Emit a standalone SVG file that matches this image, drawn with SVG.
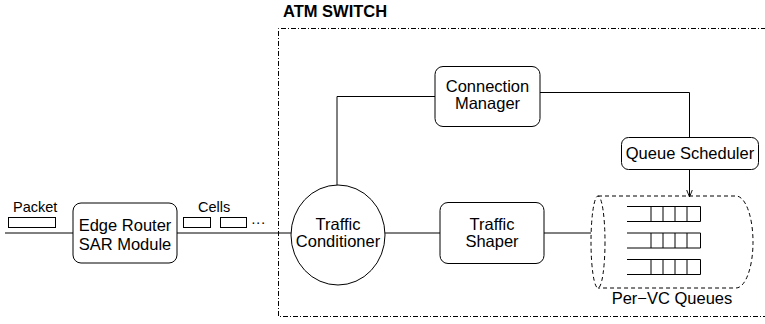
<svg xmlns="http://www.w3.org/2000/svg" width="765" height="324" viewBox="0 0 765 324">
<style>
.ln{fill:none;stroke:#000;stroke-width:1}
.bx{fill:#fff;stroke:#000;stroke-width:1}
.t{font-family:"Liberation Sans",Arial,sans-serif;font-size:16.5px;fill:#000;text-anchor:middle}
.s{font-family:"Liberation Sans",Arial,sans-serif;font-size:14.5px;fill:#000}
.ti{font-family:"Liberation Sans",Arial,sans-serif;font-size:16.5px;font-weight:bold;fill:#000}
.dd{fill:none;stroke:#000;stroke-width:1;stroke-dasharray:5,2,1,2}
.ds{fill:none;stroke:#000;stroke-width:1;stroke-dasharray:4,3}
</style>
<defs>
<marker id="arr" viewBox="0 0 10 10" refX="10" refY="5" markerWidth="7" markerHeight="7" orient="auto" markerUnits="userSpaceOnUse">
<path d="M0,1 L10,5 L0,9" fill="none" stroke="#000" stroke-width="1.3"/>
</marker>
</defs>
<rect width="765" height="324" fill="#fff"/>
<g id="atm-switch">
<path class="dd" d="M766,28.5 H278.5 V316.5 H766"/>
<text class="ti" x="283" y="17">ATM SWITCH</text>
</g>
<g id="connectors">
<path class="ln" d="M5,233 H73"/>
<path class="ln" d="M177,233 H291"/>
<path class="ln" d="M385,233 H440"/>
<path class="ln" d="M544,233 H591"/>
<path class="ln" d="M337,185 V96.5 H435"/>
<path class="ln" d="M540,92.5 H689.5 V137"/>
<path class="ln" d="M689.5,169 V197" marker-end="url(#arr)"/>
</g>
<g id="packet">
<text class="s" x="13" y="212">Packet</text>
<rect class="bx" x="8.5" y="217.5" width="47" height="10"/>
</g>
<g id="edge-router">
<rect class="bx" x="73" y="203" width="104" height="60" rx="8"/>
<text class="t" x="125" y="231">Edge Router</text>
<text class="t" x="125" y="250">SAR Module</text>
</g>
<g id="cells">
<text class="s" x="198" y="212">Cells</text>
<rect class="bx" x="183.5" y="217.5" width="27" height="10"/>
<rect class="bx" x="220.5" y="217.5" width="26" height="10"/>
<text class="s" x="251" y="227">···</text>
</g>
<g id="traffic-conditioner">
<ellipse class="bx" cx="338" cy="235" rx="47" ry="50"/>
<text class="t" x="338" y="230">Traffic</text>
<text class="t" x="338" y="247">Conditioner</text>
</g>
<g id="traffic-shaper">
<rect class="bx" x="440" y="202.5" width="104" height="61" rx="8"/>
<text class="t" x="492" y="230">Traffic</text>
<text class="t" x="492" y="247">Shaper</text>
</g>
<g id="connection-manager">
<rect class="bx" x="435" y="66.5" width="105" height="60" rx="8"/>
<text class="t" x="487.5" y="92">Connection</text>
<text class="t" x="487.5" y="109">Manager</text>
</g>
<g id="queue-scheduler">
<rect class="bx" x="621.5" y="137.5" width="137" height="32" rx="7"/>
<text class="t" x="690" y="159">Queue Scheduler</text>
</g>
<g id="per-vc-queues">
<path class="ds" d="M598,196 H736 A17,46 0 0 1 736,288 H598"/>
<ellipse class="ds" cx="598" cy="242" rx="7" ry="46"/>
<g class="ln">
<path d="M627,206.5 H700.5 V221.5 H627 M651,206.5 V221.5 M663,206.5 V221.5 M675,206.5 V221.5 M687,206.5 V221.5"/>
<path d="M627,233 H700.5 V248 H627 M651,233 V248 M663,233 V248 M675,233 V248 M687,233 V248"/>
<path d="M627,259.5 H700.5 V274.5 H627 M651,259.5 V274.5 M663,259.5 V274.5 M675,259.5 V274.5 M687,259.5 V274.5"/>
</g>
<text class="t" x="672" y="304">Per−VC Queues</text>
</g>
</svg>
